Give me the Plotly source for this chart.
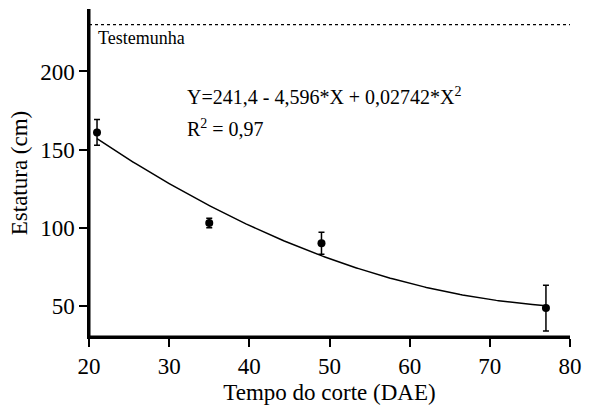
import numpy as np
import plotly.graph_objects as go

# Observed data
dae = [21, 35, 49, 77]
estatura = [161, 103, 90, 48.5]
erro = [8.3, 3, 7, 14.7]

# Regression coefficients shown on chart
coef_a, coef_b, coef_c = 241.4, -4.596, 0.02742
testemunha = 230

x_range = [20, 80]
x_tick_step = 10
x_minor_step = 1
y_range = [30, 240]
y_tick_step = 50
y_minor_step = 10

W, H = 591, 410
M = dict(l=89, r=12, t=9, b=71)
x_ppu = (W - M["l"] - M["r"]) / (x_range[1] - x_range[0])
y_ppu = (H - M["t"] - M["b"]) / (y_range[1] - y_range[0])

xf = np.linspace(min(dae), max(dae), 200)
yf = coef_a + coef_b * xf + coef_c * xf ** 2

FONT = "Liberation Serif"

fig = go.Figure()
fig.add_trace(go.Scatter(x=x_range, y=[testemunha, testemunha], mode="lines",
                         line=dict(color="black", width=1.2, dash="dot"),
                         showlegend=False, hoverinfo="skip"))
fig.add_trace(go.Scatter(x=xf, y=yf, mode="lines",
                         line=dict(color="black", width=1.5), showlegend=False))
fig.add_trace(go.Scatter(x=dae, y=estatura, mode="markers",
                         marker=dict(color="black", size=8),
                         error_y=dict(type="data", array=erro, color="black",
                                      thickness=1.5, width=3),
                         showlegend=False))

# Axis lines (left and bottom), drawn as traces along the range edges
fig.add_trace(go.Scatter(x=[x_range[0], x_range[0], x_range[1]], y=[y_range[1], y_range[0], y_range[0]],
                         mode="lines", line=dict(color="black", width=3),
                         showlegend=False, hoverinfo="skip"))

# Ticks drawn as line markers placed just outside the axes
xt = np.arange(x_range[0], x_range[1] + 0.001, x_minor_step)
xt_len = np.where((xt - x_range[0]) % x_tick_step == 0, 8, 5)
fig.add_trace(go.Scatter(x=xt, y=y_range[0] - (xt_len / 2) / y_ppu, mode="markers",
                         marker=dict(symbol="line-ns", size=xt_len, color="black",
                                     line=dict(color="black", width=1.8)),
                         cliponaxis=False, showlegend=False, hoverinfo="skip"))
yt = np.arange(y_range[0], y_range[1] + 0.001, y_minor_step)
yt_len = np.where(yt % y_tick_step == 0, 8, 5)
fig.add_trace(go.Scatter(x=x_range[0] - (yt_len / 2) / x_ppu, y=yt, mode="markers",
                         marker=dict(symbol="line-ew", size=yt_len, color="black",
                                     line=dict(color="black", width=1.8)),
                         cliponaxis=False, showlegend=False, hoverinfo="skip"))

fig.add_annotation(x=20.9, y=221.5, text="Testemunha", showarrow=False,
                   xanchor="left", yanchor="middle", font=dict(size=18, color="black", family=FONT))
fig.add_annotation(x=32.0, y=184, text="Y=241,4 - 4,596*X + 0,02742*X<sup>2</sup>", showarrow=False,
                   xanchor="left", yanchor="middle", font=dict(size=20, color="black", family=FONT))
fig.add_annotation(x=32.0, y=164, text="R<sup>2</sup> = 0,97", showarrow=False,
                   xanchor="left", yanchor="middle", font=dict(size=20, color="black", family=FONT))

fig.update_xaxes(range=x_range, tickmode="linear", tick0=20, dtick=x_tick_step,
                 showline=True, linecolor="black", linewidth=1.5, ticks="outside",
                 tickcolor="black", tickwidth=1.5, ticklen=8,
                 showgrid=False, zeroline=False,
                 tickfont=dict(size=23, color="black", family=FONT),
                 title=dict(text="Tempo do corte (DAE)", font=dict(size=23, color="black", family=FONT), standoff=6))
fig.update_yaxes(range=y_range, tickmode="linear", tick0=0, dtick=y_tick_step,
                 showline=True, linecolor="black", linewidth=1.5, ticks="outside",
                 tickcolor="black", tickwidth=1.5, ticklen=8,
                 showgrid=False, zeroline=False,
                 tickfont=dict(size=23, color="black", family=FONT),
                 title=dict(text="Estatura (cm)", font=dict(size=23, color="black", family=FONT), standoff=6))

fig.update_layout(width=W, height=H, margin=M,
                  plot_bgcolor="white", paper_bgcolor="white",
                  font=dict(family=FONT, color="black"))

fig.write_html("out.html")
